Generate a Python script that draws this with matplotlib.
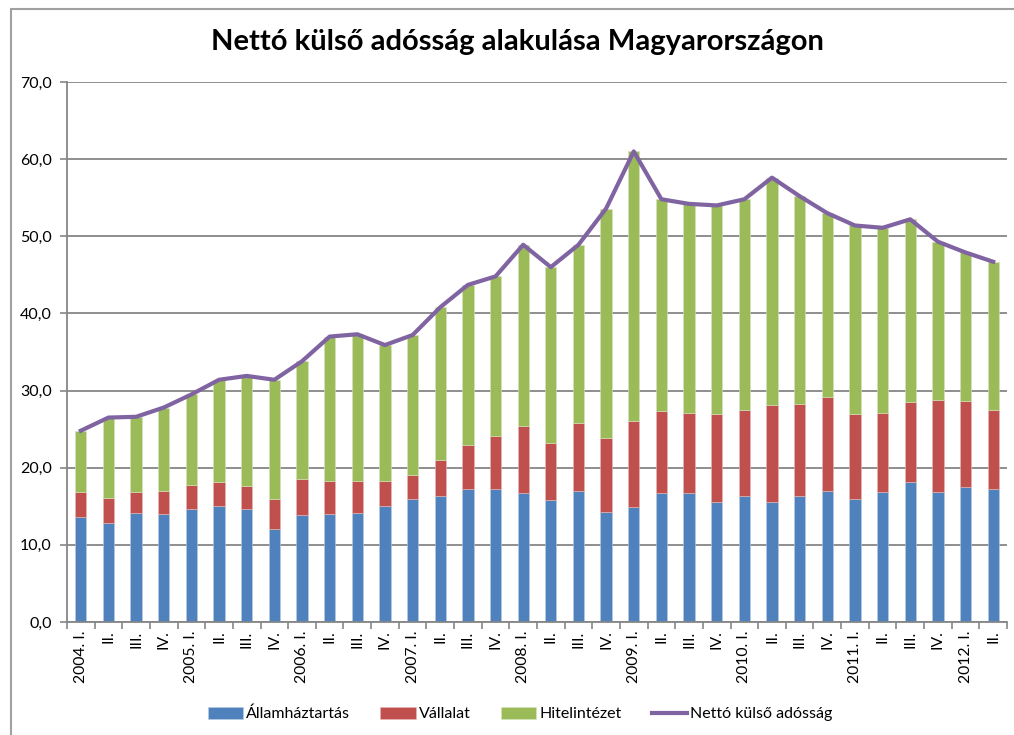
import matplotlib
matplotlib.use("Agg")
import matplotlib.pyplot as plt
from matplotlib.patches import Rectangle
import numpy as np

plt.rcParams['font.family'] = ['Lato', 'DejaVu Sans']

labels = ["2004. I.", "II.", "III.", "IV.",
          "2005. I.", "II.", "III.", "IV.",
          "2006. I.", "II.", "III.", "IV.",
          "2007. I.", "II.", "III.", "IV.",
          "2008. I.", "II.", "III.", "IV.",
          "2009. I.", "II.", "III.", "IV.",
          "2010. I.", "II.", "III.", "IV.",
          "2011. I.", "II.", "III.", "IV.",
          "2012. I.", "II."]

allam = [13.6, 12.8, 14.1, 14.0, 14.6, 15.0, 14.6, 12.1,
         13.9, 14.0, 14.1, 15.0, 16.0, 16.3, 17.2, 17.3,
         16.7, 15.8, 17.0, 14.3, 14.9, 16.7, 16.7, 15.5,
         16.3, 15.5, 16.3, 17.0, 16.0, 16.8, 18.2, 16.8,
         17.5, 17.3]
vallalat = [3.2, 3.3, 2.7, 3.0, 3.1, 3.2, 3.0, 3.9,
            4.6, 4.3, 4.2, 3.3, 3.0, 4.7, 5.7, 6.8,
            8.7, 7.4, 8.8, 9.5, 11.2, 10.6, 10.4, 11.5,
            11.2, 12.6, 12.0, 12.2, 11.0, 10.3, 10.3, 12.0,
            11.2, 10.2]
hitel = [8.0, 10.4, 9.8, 10.8, 11.8, 13.2, 14.3, 15.4,
         15.3, 18.7, 19.0, 17.6, 18.2, 19.8, 20.8, 20.7,
         23.5, 22.8, 23.1, 29.8, 34.9, 27.5, 27.1, 27.0,
         27.3, 29.5, 26.9, 23.8, 24.4, 24.0, 23.7, 20.5,
         19.2, 19.2]
netto = [24.8, 26.5, 26.6, 27.8, 29.5, 31.4, 31.9, 31.4,
         33.8, 37.0, 37.3, 35.9, 37.2, 40.8, 43.7, 44.8,
         48.9, 46.0, 48.9, 53.6, 61.0, 54.8, 54.2, 54.0,
         54.8, 57.6, 55.2, 53.0, 51.4, 51.1, 52.2, 49.3,
         47.9, 46.7]

series_names = ["Államháztartás", "Vállalat", "Hitelintézet", "Nettó külső adósság"]
colors = ["#4F81BD", "#C0504D", "#9BBB59", "#8064A2"]
yticks = [0, 10, 20, 30, 40, 50, 60, 70]

fig = plt.figure(figsize=(10.14, 7.35), dpi=100)
ax = fig.add_axes([67/1014, 1-622/735, (1007-67)/1014, (622-82)/735])

x = np.arange(len(labels))
a = np.array(allam); v = np.array(vallalat); h = np.array(hitel)
w = 0.41
b1 = ax.bar(x, a, w, color=colors[0], edgecolor="#B9CDE5", linewidth=0.4, label=series_names[0], zorder=2)
b2 = ax.bar(x, v, w, bottom=a, color=colors[1], edgecolor="#E6B9B8", linewidth=0.4, label=series_names[1], zorder=2)
b3 = ax.bar(x, h, w, bottom=a+v, color=colors[2], edgecolor="#D7E4BD", linewidth=0.4, label=series_names[2], zorder=2)
ln, = ax.plot(x, netto, color=colors[3], linewidth=3.0, label=series_names[3], zorder=3, solid_joinstyle='round')

ax.set_xlim(-0.5, len(labels)-0.5)
ax.set_ylim(0, 70)
ax.set_yticks(yticks)
ax.set_yticklabels([f"{t:.1f}".replace(".", ",") for t in yticks], fontsize=11.5)
ax.yaxis.grid(True, color="#868686", linewidth=1.3, zorder=0)
ax.set_axisbelow(True)

ax.set_xticks(np.arange(len(labels)+1)-0.5)
ax.set_xticklabels([])
ax.set_xticks(x, minor=True)
ax.set_xticklabels(labels, minor=True, rotation=90, fontsize=11.3)
ax.tick_params(axis='x', which='minor', length=0, pad=6)
ax.tick_params(axis='x', which='major', length=5, color="#868686", width=1.2)
ax.tick_params(axis='y', length=5, color="#868686", width=1.2, pad=6)

for s in ['top', 'right']:
    ax.spines[s].set_visible(False)
for s in ['left', 'bottom']:
    ax.spines[s].set_color("#868686")
    ax.spines[s].set_linewidth(1.3)

fig.text(0.51, 1-42/735, "Nettó külső adósság alakulása Magyarországon",
         ha='center', va='center', fontsize=21, fontweight='bold')

fig.legend([b1, b2, b3, ln], series_names,
           loc='center', bbox_to_anchor=(0.513, 1-714/735), ncol=4,
           frameon=False, fontsize=11.5, handlelength=2.2, handleheight=0.75,
           handletextpad=0.2, columnspacing=1.9)

fig.patches.append(Rectangle((11/1014, -0.1), 1.2, 1-9/735+0.1, transform=fig.transFigure,
                             fill=False, edgecolor="#A0A0A0", linewidth=1.5))

fig.savefig("out.png", dpi=100)
